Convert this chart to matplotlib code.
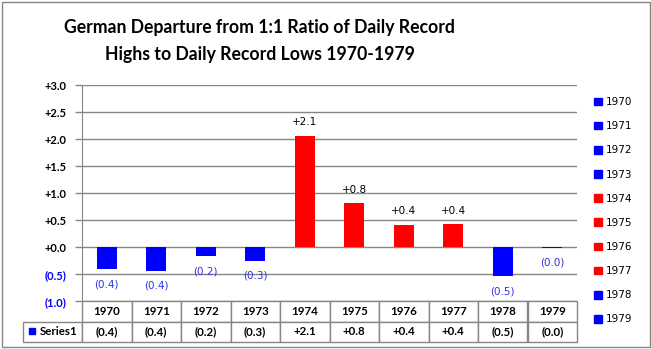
import matplotlib.pyplot as plt
from matplotlib.patches import Patch, Rectangle
from matplotlib.table import Table

years = ['1970', '1971', '1972', '1973', '1974', '1975', '1976', '1977', '1978', '1979']
values = [-0.41, -0.43, -0.17, -0.26, 2.07, 0.82, 0.42, 0.43, -0.54, -0.004]
yticks = [-1.0, -0.5, 0.0, 0.5, 1.0, 1.5, 2.0, 2.5, 3.0]
title = 'German Departure from 1:1 Ratio of Daily Record\nHighs to Daily Record Lows 1970-1979'

BLUE = '#0000ff'
RED = '#ff0000'
LABEL_BLUE = '#3030e8'
GRID = '#868686'


def fmt(v):
    if v < 0:
        return f'({abs(v):.1f})'
    return f'+{v:.1f}'


W, H = 651, 349
fig = plt.figure(figsize=(W / 100, H / 100), dpi=100)
ax = fig.add_axes([82 / W, 1 - 301.3 / H, 495 / W, 216 / H])

x = list(range(len(years)))
colors = [BLUE if v < 0 else RED for v in values]
ax.bar(x, values, width=0.4, color=colors, zorder=3)

for xi, v in zip(x, values):
    if v < 0:
        ax.annotate(fmt(v), (xi, v), xytext=(0, -10.5), textcoords='offset points',
                    ha='center', va='center', fontsize=7.5, color=LABEL_BLUE,
                    family='DejaVu Sans')
    else:
        ax.annotate(fmt(v), (xi, v), xytext=(0, 9.5), textcoords='offset points',
                    ha='center', va='center', fontsize=7.5, color='black',
                    family='DejaVu Sans')

ax.set_xlim(-0.5, len(years) - 0.5)
ax.set_ylim(-1.0, 3.0)
ax.set_yticks(yticks)
ax.set_yticklabels([fmt(t) if t != 0 else '+0.0' for t in yticks])
for t, lab in zip(yticks, ax.get_yticklabels()):
    lab.set_color(BLUE if t < 0 else 'black')
    lab.set_fontweight('bold')
    lab.set_fontfamily('Lato')
    lab.set_fontsize(8)
ax.tick_params(axis='y', length=5, width=1, color=GRID, pad=6.5)
ax.set_xticks([])
ax.grid(axis='y', color=GRID, linewidth=1, zorder=0)
ax.set_axisbelow(True)
for s in ['top', 'right', 'bottom']:
    ax.spines[s].set_visible(False)
ax.spines['left'].set_color(GRID)

# data table below the plot (bbox covers the year columns only)
tab = Table(ax, bbox=[0, -40.7 / 216, 1, 40.7 / 216])
cw = 49.5 / 495
rh = 20.35 / 216
for j, yr in enumerate(years):
    tab.add_cell(0, j, cw, rh, text=yr, loc='center')
    tab.add_cell(1, j, cw, rh, text=fmt(values[j]), loc='center')
lab_cell = tab.add_cell(1, -1, 59 / 495, rh, text='Series1', loc='right')
lab_cell.PAD = 0.08
tab.auto_set_font_size(False)
for (r, c), cell in tab.get_celld().items():
    cell.set_edgecolor(GRID)
    cell.set_linewidth(1)
    cell.get_text().set_fontweight('bold')
    cell.get_text().set_fontfamily('Lato')
    cell.get_text().set_fontsize(8.3)
ax.add_table(tab)
ax.plot([(31.5 - 82) / 495], [-(331 - 301.3) / 216], 's', color=BLUE, markersize=5,
        transform=ax.transAxes, clip_on=False)

# legend on the right
handles = [Patch(color=c) for c in colors]
fig.legend(handles, years, loc='upper left', bbox_to_anchor=(594 / W, 1 - 97 / H),
           frameon=False, handlelength=0.75, handleheight=0.75, handletextpad=0.35,
           labelspacing=1.36, borderpad=0, borderaxespad=0,
           prop={'family': 'DejaVu Sans', 'size': 7.5})

fig.text(260 / W, 1 - 41 / H, title, ha='center', va='center', fontsize=12.7,
         fontweight='bold', family='Lato', linespacing=1.75)

fig.patches.append(Rectangle((1.5 / W, 2 / H), 648 / W, 345.5 / H, transform=fig.transFigure,
                             fill=False, edgecolor=GRID, linewidth=1))

fig.savefig('out.png', dpi=100)
